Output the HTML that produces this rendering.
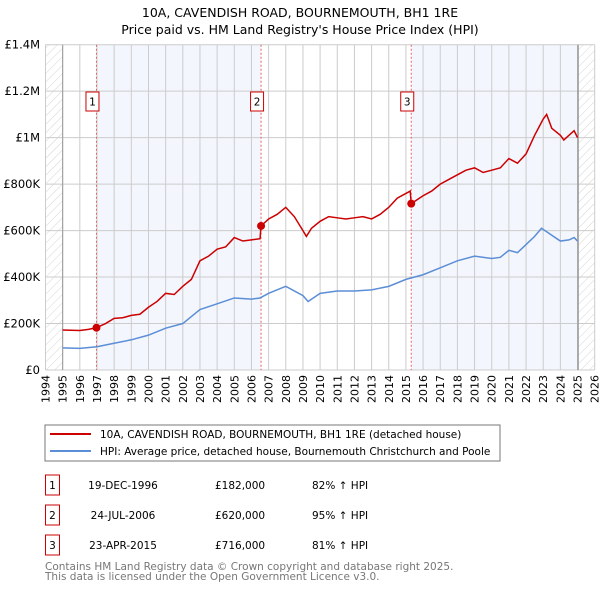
<!DOCTYPE html>
<html><head><meta charset="utf-8"><style>
body{margin:0;background:#fff;}
svg{display:block;font-family:"DejaVu Sans","Liberation Sans",sans-serif;}
</style></head><body>
<svg id="c" width="600" height="590" viewBox="0 0 600 590">
<defs><pattern id="hatch" width="6" height="6" patternUnits="userSpaceOnUse" patternTransform="rotate(45)"><line x1="0" y1="0" x2="0" y2="6" stroke="#d4d4d4" stroke-width="1"/></pattern></defs>
<text x="300" y="17" text-anchor="middle" font-size="12.5" fill="#000">10A, CAVENDISH ROAD, BOURNEMOUTH, BH1 1RE</text>
<text x="300" y="34" text-anchor="middle" font-size="12.5" fill="#000">Price paid vs. HM Land Registry's House Price Index (HPI)</text>
<g id="plot"></g>
<g>
<rect x="45" y="425" width="455" height="36" fill="#fff" stroke="#777"/>
<line x1="50" y1="434" x2="91" y2="434" stroke="#cc0000" stroke-width="2"/>
<text x="100" y="438" font-size="10.5">10A, CAVENDISH ROAD, BOURNEMOUTH, BH1 1RE (detached house)</text>
<line x1="50" y1="451" x2="91" y2="451" stroke="#5b8ed6" stroke-width="2"/>
<text x="100" y="455" font-size="10.5">HPI: Average price, detached house, Bournemouth Christchurch and Poole</text>
</g>
<g id="table" font-size="10.5"></g>
<text x="45" y="570" font-size="10.5" fill="#777">Contains HM Land Registry data © Crown copyright and database right 2025.</text>
<text x="45" y="580" font-size="10.5" fill="#777">This data is licensed under the Open Government Licence v3.0.</text>
</svg>
<script>
const yearTicks=[1994,1995,1996,1997,1998,1999,2000,2001,2002,2003,2004,2005,2006,2007,2008,2009,2010,2011,2012,2013,2014,2015,2016,2017,2018,2019,2020,2021,2022,2023,2024,2025,2026];
const priceTicks=[0,200000,400000,600000,800000,1000000,1200000,1400000];
const priceLabels=["£0","£200K","£400K","£600K","£800K","£1M","£1.2M","£1.4M"];
const redT=[1995,1996,1996.5,1996.97,1997.5,1998,1998.5,1999,1999.5,2000,2000.5,2001,2001.5,2002,2002.5,2003,2003.5,2004,2004.5,2005,2005.5,2006,2006.5,2006.56,2007,2007.5,2008,2008.5,2009,2009.2,2009.5,2010,2010.5,2011,2011.5,2012,2012.5,2013,2013.5,2014,2014.5,2015,2015.25,2015.31,2016,2016.5,2017,2017.5,2018,2018.5,2019,2019.5,2020,2020.5,2021,2021.5,2022,2022.5,2023,2023.2,2023.5,2024,2024.2,2024.5,2024.8,2025];
const redV=[172,170,175,182,200,222,225,235,240,270,295,330,325,360,390,470,490,520,530,570,555,560,565,620,650,670,700,660,600,575,610,640,660,655,650,655,660,650,670,700,740,760,770,716,750,770,800,820,840,860,870,850,860,870,910,890,930,1010,1080,1100,1040,1010,990,1010,1030,1000];
const blueT=[1995,1996,1997,1998,1999,2000,2001,2002,2003,2004,2005,2006,2006.5,2007,2008,2009,2009.3,2010,2011,2012,2013,2014,2015,2016,2017,2018,2019,2020,2020.5,2021,2021.5,2022,2022.5,2022.9,2023.5,2024,2024.5,2024.8,2025];
const blueV=[95,93,100,115,130,150,180,200,260,285,310,305,310,330,360,320,295,330,340,340,345,360,390,410,440,470,490,480,485,515,505,540,575,610,580,555,560,570,555];
const saleT=[1996.97,2006.56,2015.31];
const saleV=[182,620,716];
const saleIds=["1","2","3"];
const saleDates=["19-DEC-1996","24-JUL-2006","23-APR-2015"];
const salePrices=["£182,000","£620,000","£716,000"];
const saleHpi=["82% ↑ HPI","95% ↑ HPI","81% ↑ HPI"];

const X0=45.5,X1=594.7,Y0=370,Y1=44.7;
const xs=t=>X0+(t-1994)/32*(X1-X0);
const ys=v=>Y0-v/1400000*(Y0-Y1);
const NS="http://www.w3.org/2000/svg";
function mk(tag,attrs,parent,txt){const e=document.createElementNS(NS,tag);for(const k in attrs)e.setAttribute(k,attrs[k]);if(txt!==undefined)e.textContent=txt;parent.appendChild(e);return e;}
const g=document.getElementById('plot');
let e;
e=mk('rect',{x:X0,y:Y1,width:X1-X0,height:Y0-Y1,fill:'#fff'},g);

e=mk('rect',{x:xs(saleT[0]),y:Y1,width:xs(saleT[1])-xs(saleT[0]),height:Y0-Y1,fill:'#f3f6fd'},g);

e=mk('rect',{x:xs(saleT[2]),y:Y1,width:xs(2025.03)-xs(saleT[2]),height:Y0-Y1,fill:'#f3f6fd'},g);

e=mk('rect',{x:X0,y:Y1,width:xs(1995)-X0,height:Y0-Y1,fill:'url(#hatch)'},g);

e=mk('rect',{x:xs(2025.03),y:Y1,width:X1-xs(2025.03),height:Y0-Y1,fill:'url(#hatch)'},g);

yearTicks.forEach(y=>{
 e=mk('line',{x1:xs(y),x2:xs(y),y1:Y1,y2:Y0,stroke:'#ccc','stroke-width':1},g);
 
 const x=xs(y);
 e=mk('text',{x:x+4,y:375,'font-size':11,'text-anchor':'end',transform:`rotate(-90 ${x+4} 375)`},g,String(y));
 
});
priceTicks.forEach((p,i)=>{
 e=mk('line',{x1:X0,x2:X1,y1:ys(p),y2:ys(p),stroke:'#ccc','stroke-width':1},g);
 
 e=mk('text',{x:40,y:ys(p)+4,'font-size':11.5,'text-anchor':'end'},g,priceLabels[i]);
 
});
e=mk('line',{x1:xs(1995),x2:xs(1995),y1:Y1,y2:Y0,stroke:'#999','stroke-width':1},g);

e=mk('line',{x1:xs(2025.03),x2:xs(2025.03),y1:Y1,y2:Y0,stroke:'#999','stroke-width':1.5},g);

saleT.forEach((t,i)=>{
 e=mk('line',{x1:xs(t),x2:xs(t),y1:Y1,y2:Y0,stroke:'#e06666','stroke-width':1,'stroke-dasharray':'2,2'},g);
 
 e=mk('rect',{x:xs(t)-10.5,y:92,width:13,height:19,fill:'#fff',stroke:'#cc0000'},g);
 
 e=mk('text',{x:xs(t)-4,y:105.5,'font-size':10.5,'text-anchor':'middle'},g,saleIds[i]);
 
});
e=mk('polyline',{points:blueT.map((t,i)=>xs(t)+','+ys(blueV[i]*1000)).join(' '),fill:'none',stroke:'#5b8ed6','stroke-width':1.5},g);

e=mk('polyline',{points:redT.map((t,i)=>xs(t)+','+ys(redV[i]*1000)).join(' '),fill:'none',stroke:'#cc0000','stroke-width':1.5},g);

saleT.forEach((t,i)=>{
 e=mk('circle',{cx:xs(t),cy:ys(saleV[i]*1000),r:4,fill:'#cc0000'},g);
 
});
const tb=document.getElementById('table');
saleIds.forEach((id,i)=>{
 const y=475+i*30;
 e=mk('rect',{x:45.5,y:y,width:14,height:20,fill:'#fff',stroke:'#cc0000'},tb);
 
 e=mk('text',{x:52.5,y:y+14,'text-anchor':'middle'},tb,id);
 
 e=mk('text',{x:123,y:y+14,'text-anchor':'middle'},tb,saleDates[i]);
 
 e=mk('text',{x:215,y:y+14},tb,salePrices[i]);
 
 e=mk('text',{x:312,y:y+14},tb,saleHpi[i]);
 
});
</script>
</body></html>
